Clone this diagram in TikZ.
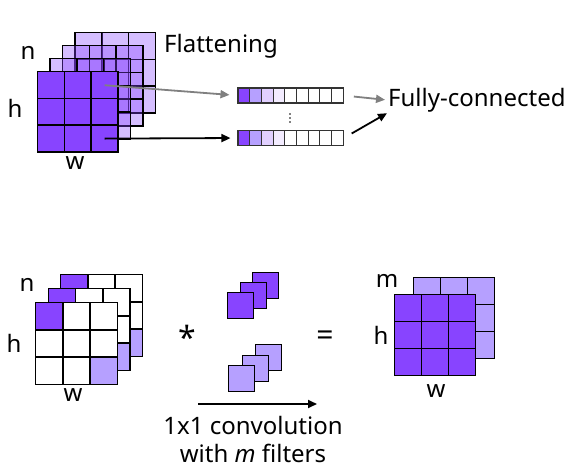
\documentclass[tikz,border=0pt]{standalone}
\usepackage{fontspec}
\setmainfont{Noto Sans}
\usetikzlibrary{arrows.meta}
\definecolor{vio}{RGB}{136,68,255}
\definecolor{lvio}{RGB}{182,160,255}
\begin{document}
\begin{tikzpicture}[x=1pt, y=-1pt,
    cell/.style={rectangle, draw=black, line width=1.4pt, minimum size=27pt, inner sep=0pt, anchor=north west},
    unit/.style={rectangle, draw=black!80, line width=1.1pt, minimum width=11.7pt, minimum height=15pt, inner sep=0pt},
    filt/.style={rectangle, draw=black, line width=1.4pt, minimum size=26pt, inner sep=0pt, anchor=north west},
    lbl/.style={font=\fontsize{24}{28}\selectfont, inner sep=1pt},
    arrow/.style={-{Triangle[length=9pt, width=8pt]}, line width=1.8pt}
]
\useasboundingbox (0,0) rectangle (587,469);

% Flattening (top)
\foreach \i in {3,2,1}
  \foreach \r in {0,1,2}
    \foreach \c in {0,1,2}
      \node[cell, fill=vio, fill opacity=0.35] at ({37+12.4*\i+26.7*\c}, {71-13*\i+26.7*\r}) {};
\foreach \r in {0,1,2}
  \foreach \c in {0,1,2}
    \node[cell, fill=vio] (tf-\r-\c) at ({37+26.7*\c}, {71+26.7*\r}) {};

\node[lbl] (tn) at (28,53) {n};
\node[lbl] (th) at (15,108) {h};
\node[lbl] (tw) at (75,163) {w};
\node[lbl, anchor=west] (flat) at (163,46) {Flattening};

\foreach \c/\col in {1/vio, 2/lvio, 3/vio!25, 4/vio!10, 5/white, 6/white, 7/white, 8/white, 9/white} {
  \node[unit, fill=\col] (va-\c) at ({238+11.7*(\c-0.5)}, 95.5) {};
  \node[unit, fill=\col] (vb-\c) at ({238+11.7*(\c-0.5)}, 138) {};
}
% vertical dots between the vectors
\foreach \y in {114,118,122}
  \fill (290,\y) circle (0.9pt);

\node[lbl, anchor=west] (fc) at (387,100) {Fully-connected};

\draw[arrow, gray] (tf-0-2.center) -- (va-1.west) [shorten >=8pt];
\draw[arrow] (tf-2-2.center) -- (vb-1.west) [shorten >=7pt];
\draw[arrow, gray] (va-9.east) -- (fc.west) [shorten <=10pt, shorten >=2pt];
\draw[arrow] (vb-9.east) -- (fc.south west) [shorten <=9pt];

% 1x1 convolution (bottom)
\foreach \i in {2,1,0} {
  \foreach \r in {0,1,2}
    \foreach \c in {0,1,2}
      \node[cell, fill=white] at ({35+12.5*\i+27.3*\c}, {302-14*\i+27.3*\r}) {};
  \node[cell, fill=vio] (bf-\i-a) at ({35+12.5*\i}, {302-14*\i}) {};
  \node[cell, fill=lvio] (bf-\i-b) at ({35+12.5*\i+54.6}, {302-14*\i+54.6}) {};
}
\node[lbl] (bn) at (27,285) {n};
\node[lbl] (bh) at (14,343) {h};
\node[lbl] (bw) at (73,395) {w};

\foreach \i/\x/\y in {2/252/272, 1/239.5/282, 0/227/292}
  \node[filt, fill=vio] (fa-\i) at (\x,\y) {};
\foreach \i/\x/\y in {2/255/344, 1/242/354.5, 0/228/365}
  \node[filt, fill=lvio] (fb-\i) at (\x,\y) {};

\node[font=\fontsize{32}{34}\selectfont\bfseries, inner sep=0pt] (star) at (187,337) {*};
\node[font=\fontsize{30}{34}\selectfont\bfseries, inner sep=0pt] (eq) at (325,338) {=};

\coordinate (conv-a) at (198,404);
\coordinate (conv-b) at (317,404);
\draw[arrow] (conv-a) -- (conv-b);
\node[lbl, align=center] (conv-lbl) at (253,439) {1x1 convolution\\with \textbf{\textit{m}} filters};

\foreach \r in {0,1,2}
  \foreach \c in {0,1,2}
    \node[cell, fill=lvio] at ({413+27*\c}, {277+27*\r}) {};
\foreach \r in {0,1,2}
  \foreach \c in {0,1,2}
    \node[cell, fill=vio] (rf-\r-\c) at ({394+27*\c}, {294+27*\r}) {};
\node[lbl] (rm) at (387,281) {m};
\node[lbl] (rh) at (381,335) {h};
\node[lbl] (rw) at (436,391) {w};

\end{tikzpicture}
\end{document}
